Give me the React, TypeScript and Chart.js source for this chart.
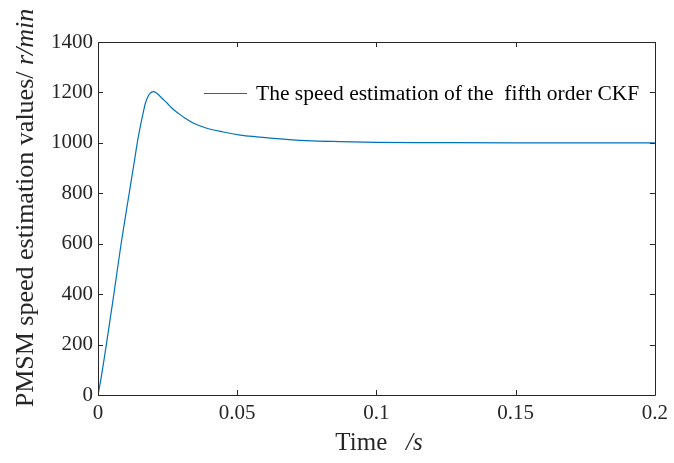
import React, { useEffect, useRef } from "react";
import { Chart, registerables } from "chart.js";

Chart.register(...registerables);

const timeS = [0, 0.001, 0.003, 0.0057, 0.0083, 0.0112, 0.0131, 0.0141, 0.0152, 0.0162, 0.017, 0.018, 0.0188, 0.0195, 0.02, 0.0207, 0.0218, 0.023, 0.0248, 0.0266, 0.029, 0.0313, 0.034, 0.0391, 0.045, 0.0511, 0.057, 0.063, 0.075, 0.087, 0.1, 0.12, 0.15, 0.2];
const speed = [0, 60, 200, 400, 600, 800, 930, 1000, 1065, 1118, 1156, 1185, 1197, 1202, 1203, 1200, 1190, 1177, 1158, 1137, 1116, 1098, 1080, 1058, 1043, 1031, 1024, 1018, 1009, 1005, 1002, 1001, 1000, 1000];
const seriesLabel = "The speed estimation of the  fifth order CKF";
const xTitleParts = [["Time", false], ["   ", false], ["/s", true]] as [string, boolean][];
const yTitleParts = [["PMSM speed estimation values/ ", false], ["r/min", true]] as [string, boolean][];

const AX = "#262626";
const SERIF = "'Liberation Serif', 'Times New Roman', serif";

function drawParts(ctx: CanvasRenderingContext2D, parts: [string, boolean][], size: number) {
  const fonts = parts.map(([, it]) => `${it ? "italic " : ""}${size}px ${SERIF}`);
  const widths = parts.map(([t], i) => {
    ctx.font = fonts[i];
    return ctx.measureText(t).width;
  });
  const total = widths.reduce((a, b) => a + b, 0);
  let x = -total / 2;
  parts.forEach(([t], i) => {
    ctx.font = fonts[i];
    ctx.fillText(t, x, 0);
    x += widths[i];
  });
}

const decorPlugin = {
  id: "decor",
  afterDraw(chart: any) {
    const { ctx, chartArea: a, scales } = chart;
    const xs = scales.x, ys = scales.y;
    ctx.save();
    ctx.strokeStyle = AX;
    ctx.lineWidth = 1;
    ctx.beginPath();
    ctx.rect(Math.round(a.left) + 0.5, Math.round(a.top) + 0.5, Math.round(a.right - a.left), Math.round(a.bottom - a.top));
    ctx.stroke();
    const tl = 5;
    ctx.beginPath();
    xs.ticks.forEach((t: any) => {
      const px = Math.round(xs.getPixelForValue(t.value)) + 0.5;
      ctx.moveTo(px, a.bottom);
      ctx.lineTo(px, a.bottom - tl);
      ctx.moveTo(px, a.top);
      ctx.lineTo(px, a.top + tl);
    });
    ys.ticks.forEach((t: any) => {
      const py = Math.round(ys.getPixelForValue(t.value)) + 0.5;
      ctx.moveTo(a.left, py);
      ctx.lineTo(a.left + tl, py);
      ctx.moveTo(a.right, py);
      ctx.lineTo(a.right - tl, py);
    });
    ctx.stroke();

    // legend
    const ly = 93;
    ctx.strokeStyle = "#0072BD";
    ctx.lineWidth = 1.2;
    ctx.beginPath();
    ctx.moveTo(204, ly + 0.5);
    ctx.lineTo(247, ly + 0.5);
    ctx.stroke();
    ctx.fillStyle = "#000";
    ctx.font = `21.5px ${SERIF}`;
    ctx.textBaseline = "middle";
    ctx.textAlign = "left";
    ctx.fillText(chart.data.datasets[0].label, 256, ly + 1);

    // titles
    ctx.fillStyle = AX;
    ctx.textAlign = "left";
    ctx.textBaseline = "middle";
    ctx.save();
    ctx.translate(379, 443);
    drawParts(ctx, xTitleParts, 25);
    ctx.restore();
    ctx.save();
    ctx.translate(26, 208);
    ctx.rotate(-Math.PI / 2);
    drawParts(ctx, yTitleParts, 26);
    ctx.restore();
    ctx.restore();
  },
};

export default function App() {
  const ref = useRef<HTMLCanvasElement | null>(null);
  useEffect(() => {
    document.body.style.margin = "0";
    const chart = new Chart(ref.current as HTMLCanvasElement, {
      type: "line",
      data: {
        datasets: [
          {
            label: seriesLabel,
            data: timeS.map((t, i) => ({ x: t, y: speed[i] })),
            borderColor: "#0072BD",
            borderWidth: 1.2,
            pointRadius: 0,
            cubicInterpolationMode: "monotone",
            fill: false,
          },
        ],
      },
      options: {
        animation: false,
        responsive: false,
        devicePixelRatio: 1,
        layout: { padding: { top: 42, right: 19, left: 0, bottom: 0 } },
        plugins: { legend: { display: false }, tooltip: { enabled: false } },
        scales: {
          x: {
            type: "linear",
            min: 0,
            max: 0.2,
            afterFit: (s: any) => { s.height = 68; },
            ticks: {
              stepSize: 0.05,
              padding: 6,
              color: AX,
              maxRotation: 0,
              font: { family: SERIF, size: 21 },
              callback: (v: any) => String(Math.round(Number(v) * 100) / 100),
            },
            grid: { display: false, drawTicks: false },
            border: { display: false },
          },
          y: {
            min: 0,
            max: 1400,
            afterFit: (s: any) => { s.width = 98; },
            ticks: {
              stepSize: 200,
              padding: 5,
              color: AX,
              font: { family: SERIF, size: 21 },
              callback: (v: any) => String(v),
            },
            grid: { display: false, drawTicks: false },
            border: { display: false },
          },
        },
      },
      plugins: [decorPlugin],
    } as any);
    return () => chart.destroy();
  }, []);
  return (
    <div style={{ position: "absolute", left: 0, top: 0, width: 674, height: 463, background: "#fff" }}>
      <canvas ref={ref} width={674} height={463} style={{ width: 674, height: 463 }} />
    </div>
  );
}
